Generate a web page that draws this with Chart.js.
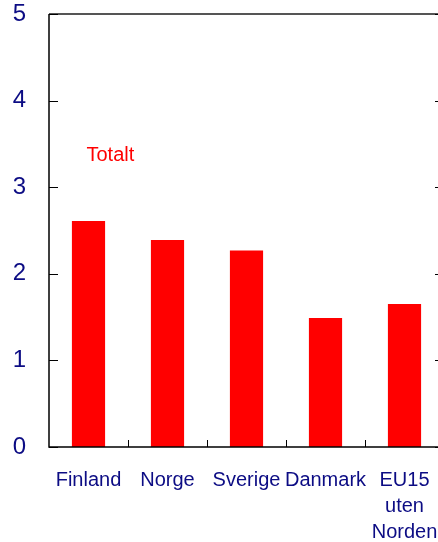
<!DOCTYPE html>
<html>
<head>
<meta charset="utf-8">
<script src="https://cdn.jsdelivr.net/npm/chart.js@4"></script>
<style>
  html, body { margin: 0; padding: 0; overflow: hidden; background: #fff; }
  #wrap { width: 446px; height: 542px; }
</style>
</head>
<body>
<div id="wrap"><canvas id="chart" width="446" height="542"></canvas></div>
<script>
// categories and values
var countries = ['Finland', 'Norge', 'Sverige', 'Danmark', ['EU15', 'uten', 'Norden']];
var totalt = [2.61, 2.39, 2.27, 1.49, 1.65];
var yTicks = [0, 1, 2, 3, 4, 5];
var seriesLabel = 'Totalt';

var navy = '#0c0c84';
var fontFam = '"Liberation Sans", Arial, sans-serif';

// inward tick marks, axis lines and the in-plot label
var frame = {
    id: 'frame',
    afterDraw: function(chart) {
        var ctx = chart.ctx;
        var a = chart.chartArea;
        var x = chart.scales.x, y = chart.scales.y;
        ctx.save();
        // top border (grey)
        ctx.strokeStyle = '#555';
        ctx.lineWidth = 2;
        ctx.beginPath();
        ctx.moveTo(a.left, a.top);
        ctx.lineTo(a.right, a.top);
        ctx.stroke();
        // left + bottom axis
        ctx.strokeStyle = '#000';
        ctx.lineWidth = 1.5;
        ctx.beginPath();
        ctx.moveTo(a.left, a.top);
        ctx.lineTo(a.left, a.bottom);
        ctx.lineTo(a.right, a.bottom);
        ctx.lineTo(a.right, a.top);
        ctx.stroke();
        // y ticks, inward on both sides
        ctx.lineWidth = 1;
        yTicks.forEach(function(v) {
            var py = Math.round(y.getPixelForValue(v)) + 0.5;
            ctx.beginPath();
            ctx.moveTo(a.left, py);
            ctx.lineTo(a.left + 9, py);
            ctx.moveTo(a.right, py);
            ctx.lineTo(a.right - 9, py);
            ctx.stroke();
        });
        // x ticks between categories, pointing up
        for (var i = 1; i < countries.length; i++) {
            var px = Math.round((x.getPixelForValue(i - 1) + x.getPixelForValue(i)) / 2) + 0.5;
            ctx.beginPath();
            ctx.moveTo(px, a.bottom);
            ctx.lineTo(px, a.bottom - 7);
            ctx.stroke();
        }
        // series label
        ctx.fillStyle = '#ff0000';
        ctx.font = '20px ' + fontFam;
        ctx.textAlign = 'left';
        ctx.textBaseline = 'middle';
        ctx.fillText(seriesLabel, x.getPixelForValue(0) - 2, y.getPixelForValue(3.37));
        ctx.restore();
    }
};

var ctx = document.getElementById('chart').getContext('2d');
var chart = new Chart(ctx, {
    type: 'bar',
    data: {
        labels: countries,
        datasets: [{
            label: seriesLabel,
            data: totalt,
            backgroundColor: '#ff0000',
            borderWidth: 0,
            categoryPercentage: 1,
            barPercentage: 0.42
        }]
    },
    options: {
        responsive: false,
        animation: false,
        layout: { padding: { top: 14, right: 2, left: 0, bottom: 0 } },
        plugins: { legend: { display: false }, tooltip: { enabled: false } },
        scales: {
            x: {
                grid: { display: false, drawTicks: false },
                border: { display: false },
                ticks: {
                    color: navy,
                    padding: 20,
                    maxRotation: 0,
                    autoSkip: false,
                    font: { family: fontFam, size: 20, lineHeight: 1.3 }
                },
                afterFit: function(s) {
                    s.height = 95;
                    s.paddingLeft = 0;
                    s.paddingRight = 0;
                }
            },
            y: {
                min: 0,
                max: 5,
                grid: { display: false, drawTicks: false },
                border: { display: false },
                ticks: {
                    stepSize: 1,
                    color: navy,
                    padding: 23,
                    font: { family: fontFam, size: 24 }
                },
                afterFit: function(s) {
                    s.width = 49;
                    s.paddingTop = 0;
                    s.paddingBottom = 0;
                }
            }
        }
    },
    plugins: [frame]
});
</script>
</body>
</html>
